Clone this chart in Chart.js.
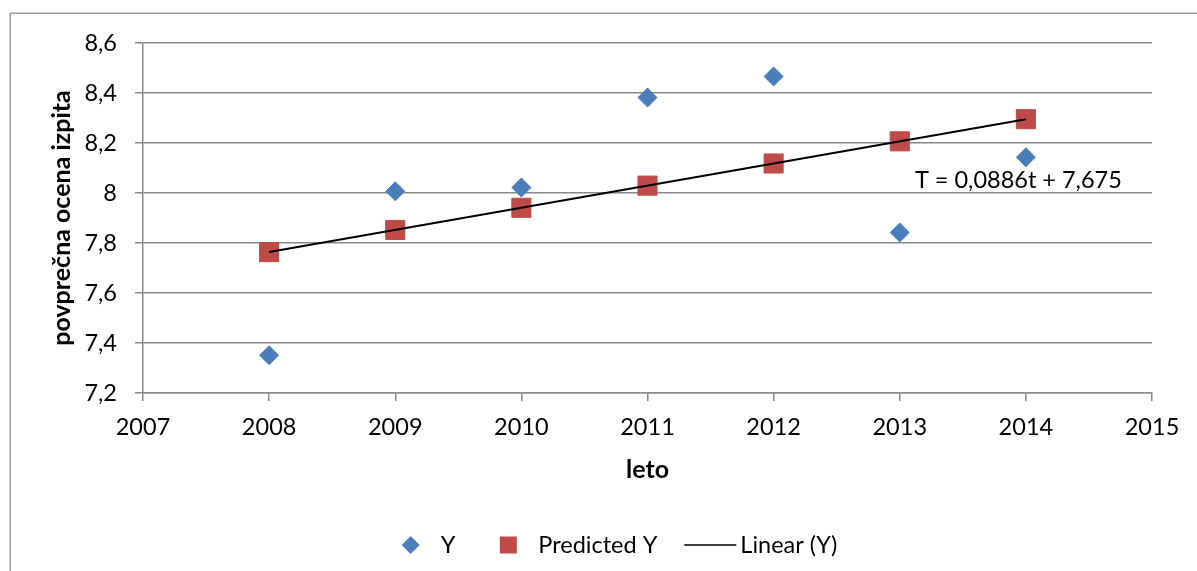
<!DOCTYPE html>
<html>
<head>
<meta charset="utf-8">
<script src="https://cdn.jsdelivr.net/npm/chart.js@4.4.1/dist/chart.umd.min.js"></script>
<style>
  html, body { margin: 0; padding: 0; background: #ffffff; }
  #wrap { width: 1197px; height: 571px; position: relative; }
</style>
</head>
<body>
<div id="wrap"><canvas id="chart" width="1197" height="571"></canvas></div>
<script>
// Average exam grade per year, with the fitted linear trend
const years = [2008, 2009, 2010, 2011, 2012, 2013, 2014];
const observedY = [7.351, 8.007, 8.022, 8.382, 8.466, 7.842, 8.143];
const predictedY = [7.7636, 7.8522, 7.9408, 8.0294, 8.118, 8.2066, 8.2952];
const trendYears = [2008, 2014];
const trendValues = [7.7636, 8.2952];
const trendSlope = 0.0886;
const trendIntercept = 7.675;

const seriesNames = ['Y', 'Predicted Y', 'Linear (Y)'];
const xTickValues = [2007, 2008, 2009, 2010, 2011, 2012, 2013, 2014, 2015];
const xTickLabels = ['2007', '2008', '2009', '2010', '2011', '2012', '2013', '2014', '2015'];
const yTickValues = [7.2, 7.4, 7.6, 7.8, 8, 8.2, 8.4, 8.6];
const yTickLabels = ['7,2', '7,4', '7,6', '7,8', '8', '8,2', '8,4', '8,6'];
const xTitle = 'leto';
const yTitle = 'povprečna ocena izpita';

const FONT = 'Lato';
const TEXT_SIZE = 23.5;
const TITLE_SIZE = 25;
const gridColor = '#8a8a8a';
const blue = '#4A7EBB';
const red = '#BE4B48';

function decimalComma(v) { return String(v).replace('.', ','); }
const equationText = 'T = ' + decimalComma(trendSlope) + 't + ' + decimalComma(trendIntercept);

// Frame, trend equation and the legend row under the axis title
const decorations = {
  id: 'decorations',
  afterDraw(chart) {
    const ctx = chart.ctx;
    const xs = chart.scales.x, ys = chart.scales.y;

    ctx.save();
    ctx.strokeStyle = '#9c9c9c';
    ctx.lineWidth = 1.5;
    ctx.beginPath();
    ctx.moveTo(10.25, chart.height + 2);
    ctx.lineTo(10.25, 13.25);
    ctx.lineTo(chart.width + 2, 13.25);
    ctx.stroke();

    ctx.fillStyle = '#000';
    ctx.font = TEXT_SIZE + 'px ' + FONT;
    ctx.textAlign = 'left';
    ctx.textBaseline = 'middle';
    ctx.fillText(equationText, xs.getPixelForValue(2013.12), ys.getPixelForValue(8.05));

    const sets = chart.data.datasets;
    const slot = 52, gap = 4, spacing = 27;
    const widths = sets.map(d => ctx.measureText(d.label).width);
    let total = spacing * (sets.length - 1);
    widths.forEach(w => { total += slot + gap + w; });
    let x = 611 - total / 2;
    const y = 545;
    sets.forEach((d, i) => {
      const cx = x + slot / 2;
      if (d.showLine) {
        ctx.strokeStyle = d.borderColor;
        ctx.lineWidth = 1.5;
        ctx.beginPath();
        ctx.moveTo(x, y);
        ctx.lineTo(x + slot, y);
        ctx.stroke();
      } else if (d.pointStyle === 'rectRot') {
        ctx.fillStyle = d.backgroundColor;
        ctx.beginPath();
        ctx.moveTo(cx - 9, y);
        ctx.lineTo(cx, y - 9);
        ctx.lineTo(cx + 9, y);
        ctx.lineTo(cx, y + 9);
        ctx.closePath();
        ctx.fill();
      } else {
        ctx.fillStyle = d.backgroundColor;
        ctx.fillRect(cx - 8.5, y - 8.5, 17, 17);
      }
      ctx.fillStyle = '#000';
      ctx.fillText(d.label, x + slot + gap, y);
      x += slot + gap + widths[i] + spacing;
    });
    ctx.restore();
  }
};

const toPoints = (xv, yv) => xv.map((v, i) => ({ x: v, y: yv[i] }));

new Chart(document.getElementById('chart'), {
  type: 'scatter',
  data: {
    datasets: [
      {
        label: seriesNames[0],
        data: toPoints(years, observedY),
        pointStyle: 'rectRot',
        pointRadius: 9.5,
        borderWidth: 1,
        backgroundColor: blue,
        borderColor: blue,
        order: 1
      },
      {
        label: seriesNames[1],
        data: toPoints(years, predictedY),
        pointStyle: 'rect',
        pointRadius: 13.5,
        borderWidth: 1,
        backgroundColor: red,
        borderColor: red,
        order: 2
      },
      {
        label: seriesNames[2],
        data: toPoints(trendYears, trendValues),
        showLine: true,
        pointRadius: 0,
        borderColor: '#000000',
        backgroundColor: '#000000',
        borderWidth: 2,
        order: 0
      }
    ]
  },
  options: {
    responsive: false,
    animation: false,
    devicePixelRatio: 1,
    layout: { padding: { left: 0, top: 43, right: 45, bottom: 0 } },
    plugins: { legend: { display: false }, tooltip: { enabled: false } },
    scales: {
      x: {
        type: 'linear',
        min: 2007,
        max: 2015,
        afterBuildTicks: s => { s.ticks = xTickValues.map(v => ({ value: v })); },
        afterFit: s => { s.height = 178; },
        grid: { drawOnChartArea: false, drawTicks: true, tickLength: 8, color: gridColor, lineWidth: 1.5 },
        border: { display: true, color: gridColor, width: 1.5 },
        ticks: {
          autoSkip: false,
          maxRotation: 0,
          padding: 12,
          color: '#000',
          font: { family: FONT, size: TEXT_SIZE },
          callback: (v, i) => xTickLabels[i]
        },
        title: {
          display: true,
          text: xTitle,
          color: '#000',
          font: { family: FONT, size: TITLE_SIZE, weight: 'bold' },
          padding: { top: 0, bottom: 86 }
        }
      },
      y: {
        type: 'linear',
        min: 7.2,
        max: 8.6,
        afterBuildTicks: s => { s.ticks = yTickValues.map(v => ({ value: v })); },
        afterFit: s => { s.width = 143; },
        grid: { drawTicks: true, tickLength: 8, color: gridColor, lineWidth: 1.5 },
        border: { display: true, color: gridColor, width: 1.5 },
        ticks: {
          padding: 18,
          color: '#000',
          font: { family: FONT, size: TEXT_SIZE },
          callback: (v, i) => yTickLabels[i]
        },
        title: {
          display: true,
          text: yTitle,
          color: '#000',
          font: { family: FONT, size: TITLE_SIZE, weight: 'bold' },
          padding: { top: 47, bottom: 0 }
        }
      }
    }
  },
  plugins: [decorations]
});
</script>
</body>
</html>
